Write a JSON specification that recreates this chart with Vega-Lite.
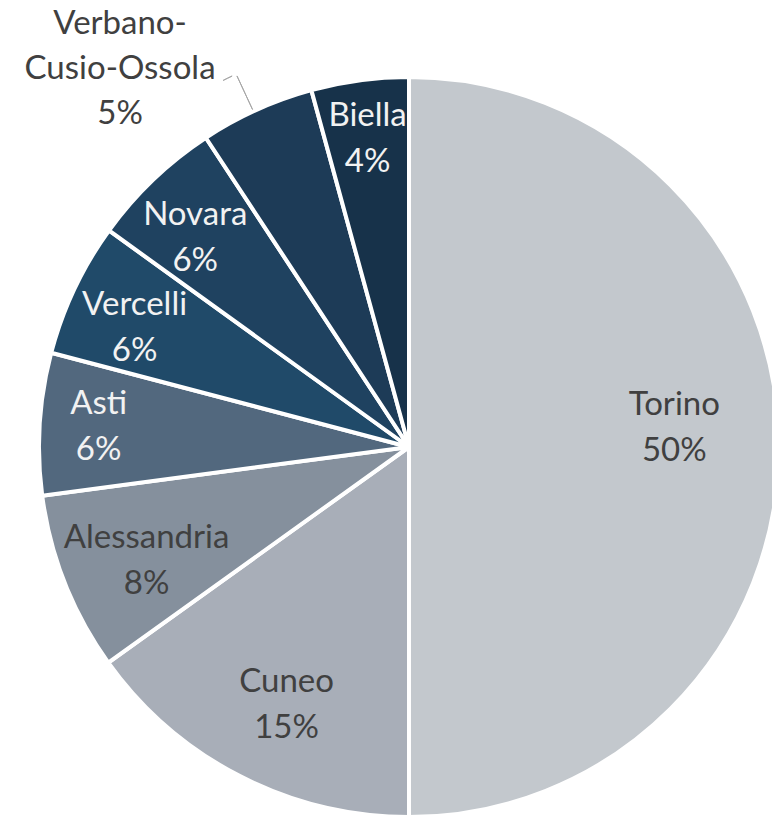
{
  "$schema": "https://vega.github.io/schema/vega-lite/v6.json",
  "width": 818,
  "height": 894,
  "autosize": "none",
  "padding": {"left": 0, "top": 0, "right": -46, "bottom": -77},
  "background": "white",
  "config": {"view": {"stroke": null}},
  "data": {
    "values": [
      {"region": "Torino", "value": 50.0, "label": "Torino\n50%"},
      {"region": "Cuneo", "value": 15.1, "label": "Cuneo\n15%"},
      {"region": "Alessandria", "value": 7.8, "label": "Alessandria\n8%"},
      {"region": "Asti", "value": 6.2, "label": "Asti\n6%"},
      {"region": "Vercelli", "value": 5.85, "label": "Vercelli\n6%"},
      {"region": "Novara", "value": 5.8, "label": "Novara\n6%"},
      {"region": "Verbano-Cusio-Ossola", "value": 5.0, "label": "Verbano-\nCusio-Ossola\n5%"},
      {"region": "Biella", "value": 4.25, "label": "Biella\n4%"}
    ]
  },
  "encoding": {
    "theta": {"field": "value", "type": "quantitative", "stack": true},
    "order": {"field": "value", "type": "quantitative", "sort": "descending"}
  },
  "layer": [
    {
      "mark": {"type": "arc", "radius": 370, "stroke": "white", "strokeWidth": 4},
      "encoding": {
        "color": {
          "field": "region", "type": "nominal", "legend": null,
          "scale": {
            "domain": ["Torino", "Cuneo", "Alessandria", "Asti", "Vercelli", "Novara", "Verbano-Cusio-Ossola", "Biella"],
            "range": ["#c3c8cd", "#a8aeb8", "#85909d", "#52687e", "#204a69", "#1f4260", "#1d3b57", "#17324a"]
          }
        }
      }
    },
    {
      "mark": {"type": "arc", "radius": 409, "radius2": 372, "padAngle": 1, "thetaOffset": -0.01, "fillOpacity": 0, "stroke": "#a6a6a6", "strokeWidth": 1},
      "encoding": {
        "strokeOpacity": {"condition": {"test": "datum.region === 'Verbano-Cusio-Ossola'", "value": 1}, "value": 0}
      }
    },
    {
      "mark": {"type": "arc", "radius": 411, "radius2": 411, "padAngle": 0.2046, "thetaOffset": -0.033, "fillOpacity": 0, "stroke": "#a6a6a6", "strokeWidth": 1},
      "encoding": {
        "strokeOpacity": {"condition": {"test": "datum.region === 'Verbano-Cusio-Ossola'", "value": 1}, "value": 0}
      }
    },
    {
      "mark": {"type": "text", "radius": 266, "thetaOffset": -0.072, "dy": -23, "font": "Lato", "fontSize": 33, "lineHeight": 46, "lineBreak": "\n", "align": "center", "baseline": "middle", "fill": "#404040"},
      "encoding": {
        "text": {"condition": {"test": "datum.region === 'Torino'", "field": "label"}, "value": ""}
      }
    },
    {
      "mark": {"type": "text", "radius": 286, "thetaOffset": -0.032, "dy": -23, "font": "Lato", "fontSize": 33, "lineHeight": 46, "lineBreak": "\n", "align": "center", "baseline": "middle", "fill": "#404040"},
      "encoding": {
        "text": {"condition": {"test": "datum.region === 'Cuneo' || datum.region === 'Alessandria'", "field": "label"}, "value": ""}
      }
    },
    {
      "mark": {"type": "text", "radius": 299, "thetaOffset": -0.033, "dy": -23, "font": "Lato", "fontSize": 33, "lineHeight": 46, "lineBreak": "\n", "align": "center", "baseline": "middle", "fill": "#f2f2f2"},
      "encoding": {
        "text": {"condition": {"test": "datum.region === 'Vercelli' || datum.region === 'Novara'", "field": "label"}, "value": ""}
      }
    },
    {
      "mark": {"type": "text", "radius": 311, "dy": -23, "font": "Lato", "fontSize": 33, "lineHeight": 46, "lineBreak": "\n", "align": "center", "baseline": "middle", "fill": "#f2f2f2"},
      "encoding": {
        "text": {"condition": {"test": "datum.region === 'Asti' || datum.region === 'Biella'", "field": "label"}, "value": ""}
      }
    },
    {
      "mark": {"type": "text", "radius": 478, "thetaOffset": -0.225, "dy": -42, "font": "Lato", "fontSize": 33, "lineHeight": 45, "lineBreak": "\n", "align": "center", "baseline": "middle", "fill": "#404040"},
      "encoding": {
        "text": {"condition": {"test": "datum.region === 'Verbano-Cusio-Ossola'", "field": "label"}, "value": ""}
      }
    }
  ]
}
